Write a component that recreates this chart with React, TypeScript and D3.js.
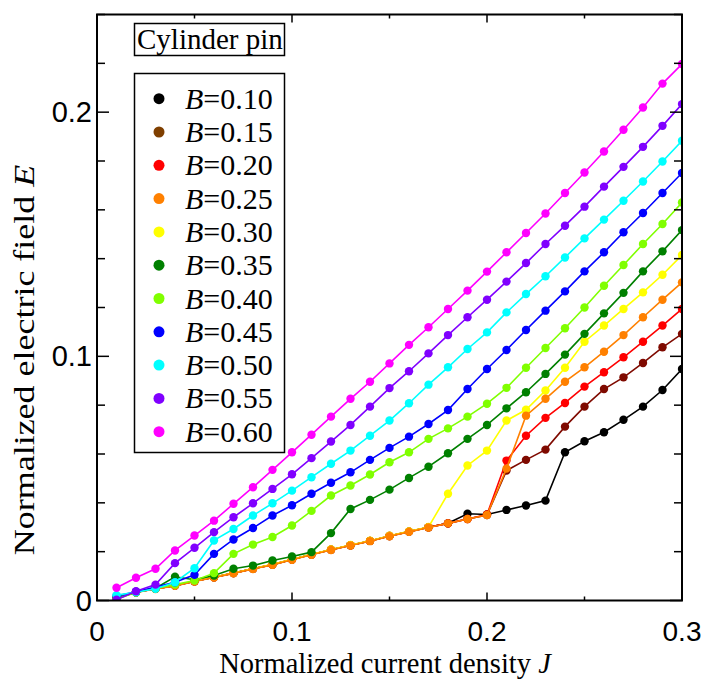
import React from "react";
import * as d3 from "d3";

const J = [0.01,0.02,0.03,0.04,0.05,0.06,0.07,0.08,0.09,0.10,0.11,0.12,0.13,0.14,0.15,0.16,0.17,0.18,0.19,0.20,0.21,0.22,0.23,0.24,0.25,0.26,0.27,0.28,0.29,0.30];

const labels = ["0.10","0.15","0.20","0.25","0.30","0.35","0.40","0.45","0.50","0.55","0.60"];
const colors = ["#000000","#7f0a00","#ff0000","#ff8000","#ffff00","#008000","#80ff00","#0000ff","#00ffff","#8000ff","#ff00ff"];
const legendColors = ["#000000","#7f3f00","#ff0000","#ff8000","#ffff00","#008000","#80ff00","#0000ff","#00ffff","#8000ff","#ff00ff"];
const drawOrder = [0, 1, 2, 4, 3, 5, 6, 7, 8, 9, 10];

const E010 = [0.0010,0.0034,0.0048,0.0061,0.0079,0.0095,0.0112,0.0130,0.0147,0.0168,0.0188,0.0208,0.0226,0.0244,0.0264,0.0282,0.0300,0.0316,0.0355,0.0352,0.0371,0.0389,0.0409,0.0607,0.0652,0.0689,0.0740,0.0794,0.0862,0.0948];
const E015 = [0.0010,0.0034,0.0048,0.0061,0.0079,0.0095,0.0112,0.0130,0.0147,0.0168,0.0188,0.0208,0.0226,0.0244,0.0264,0.0282,0.0300,0.0316,0.0334,0.0350,0.0532,0.0576,0.0618,0.0712,0.0794,0.0866,0.0914,0.0973,0.1037,0.1092];
const E020 = [0.0010,0.0034,0.0048,0.0061,0.0079,0.0095,0.0112,0.0130,0.0147,0.0168,0.0188,0.0208,0.0226,0.0244,0.0264,0.0282,0.0300,0.0316,0.0334,0.0352,0.0573,0.0675,0.0748,0.0809,0.0876,0.0935,0.0996,0.1060,0.1126,0.1194];
const E025 = [0.0010,0.0033,0.0047,0.0060,0.0078,0.0094,0.0111,0.0129,0.0146,0.0167,0.0187,0.0207,0.0225,0.0243,0.0263,0.0281,0.0299,0.0316,0.0334,0.0350,0.0540,0.0757,0.0826,0.0896,0.0955,0.1019,0.1087,0.1160,0.1232,0.1303];
const E030 = [0.0010,0.0035,0.0049,0.0062,0.0080,0.0096,0.0113,0.0131,0.0148,0.0169,0.0189,0.0209,0.0227,0.0245,0.0265,0.0283,0.0301,0.0437,0.0553,0.0614,0.0737,0.0781,0.0860,0.0953,0.1060,0.1126,0.1194,0.1262,0.1334,0.1415];
const E035 = [0.0008,0.0034,0.0050,0.0097,0.0085,0.0102,0.0130,0.0143,0.0164,0.0180,0.0198,0.0276,0.0375,0.0412,0.0454,0.0502,0.0548,0.0603,0.0662,0.0719,0.0787,0.0853,0.0928,0.1007,0.1092,0.1176,0.1260,0.1348,0.1430,0.1517];
const E040 = [0.0005,0.0034,0.0050,0.0065,0.0082,0.0112,0.0191,0.0229,0.0260,0.0307,0.0367,0.0430,0.0471,0.0516,0.0566,0.0607,0.0662,0.0705,0.0753,0.0806,0.0871,0.0953,0.1034,0.1115,0.1200,0.1289,0.1374,0.1460,0.1542,0.1630];
const E045 = [0.0018,0.0036,0.0055,0.0075,0.0105,0.0191,0.0250,0.0297,0.0348,0.0390,0.0437,0.0482,0.0525,0.0576,0.0625,0.0671,0.0723,0.0780,0.0866,0.0948,0.1026,0.1108,0.1187,0.1266,0.1348,0.1426,0.1508,0.1587,0.1669,0.1751];
const E050 = [0.0022,0.0034,0.0048,0.0075,0.0132,0.0246,0.0293,0.0348,0.0398,0.0450,0.0505,0.0560,0.0614,0.0675,0.0737,0.0808,0.0884,0.0955,0.1030,0.1098,0.1180,0.1255,0.1328,0.1405,0.1483,0.1560,0.1637,0.1716,0.1798,0.1883];
const E055 = [0.0003,0.0038,0.0065,0.0153,0.0216,0.0280,0.0341,0.0398,0.0457,0.0517,0.0583,0.0651,0.0719,0.0794,0.0870,0.0939,0.1012,0.1087,0.1160,0.1232,0.1306,0.1382,0.1460,0.1535,0.1613,0.1695,0.1776,0.1858,0.1944,0.2033];
const E060 = [0.0052,0.0093,0.0130,0.0205,0.0266,0.0327,0.0396,0.0464,0.0535,0.0607,0.0679,0.0753,0.0826,0.0896,0.0971,0.1047,0.1119,0.1194,0.1269,0.1347,0.1426,0.1505,0.1585,0.1669,0.1753,0.1839,0.1928,0.2019,0.2117,0.2197];

const seriesValues = [E010,E015,E020,E025,E030,E035,E040,E045,E050,E055,E060];

const xMajor = [0, 0.1, 0.2, 0.3];
const xMinor = [0.05, 0.15, 0.25];
const xTickLabels = ["0", "0.1", "0.2", "0.3"];
const yMajor = [0, 0.1, 0.2];
const yMinor = [0.02,0.04,0.06,0.08,0.12,0.14,0.16,0.18,0.22,0.24];
const yTickLabels = ["0", "0.1", "0.2"];

const W = 703, H = 682;
const L = 97, R = 682, T = 14.5, B = 600.5;

export default function App() {
  const x = d3.scaleLinear().domain([0, 0.3]).range([L, R]);
  const y = d3.scaleLinear().domain([0, 0.24]).range([B, T]);
  const line = d3.line<number>().x((_, i) => x(J[i])).y((d) => y(d));
  const serif = "'Liberation Serif', 'Times New Roman', serif";
  const sans = "'Liberation Sans', Arial, sans-serif";

  return (
    <svg width={W} height={H} style={{ position: "absolute", left: 0, top: 0, background: "#fff" }}>
      <rect x={0} y={0} width={W} height={H} fill="#fff" />
      <defs>
        <clipPath id="plot">
          <rect x={L} y={T} width={R - L} height={B - T} />
        </clipPath>
      </defs>
      <g clipPath="url(#plot)">
        {drawOrder.map((si) => (
          <g key={si}>
            <path d={line(seriesValues[si]) || ""} fill="none" stroke={colors[si]} strokeWidth={1.6} />
            {seriesValues[si].map((v, i) => (
              <circle key={i} cx={x(J[i])} cy={y(v)} r={4.2} fill={colors[si]} />
            ))}
          </g>
        ))}
      </g>
      <rect x={L} y={T} width={R - L} height={B - T} fill="none" stroke="#000" strokeWidth={2} />
      {xMajor.map((t, i) => (
        <g key={"xm" + i}>
          <line x1={x(t)} x2={x(t)} y1={B} y2={B - 8} stroke="#000" strokeWidth={1.5} />
          <line x1={x(t)} x2={x(t)} y1={T} y2={T + 8} stroke="#000" strokeWidth={1.5} />
          <text x={x(t)} y={641} textAnchor="middle" fontFamily={sans} fontSize={28}>{xTickLabels[i]}</text>
        </g>
      ))}
      {xMinor.map((t, i) => (
        <g key={"xn" + i}>
          <line x1={x(t)} x2={x(t)} y1={B} y2={B - 4} stroke="#000" strokeWidth={1.5} />
          <line x1={x(t)} x2={x(t)} y1={T} y2={T + 4} stroke="#000" strokeWidth={1.5} />
        </g>
      ))}
      {yMajor.map((t, i) => (
        <g key={"ym" + i}>
          <line x1={L} x2={L + 12} y1={y(t)} y2={y(t)} stroke="#000" strokeWidth={1.5} />
          <line x1={R} x2={R - 12} y1={y(t)} y2={y(t)} stroke="#000" strokeWidth={1.5} />
          <text x={92} y={y(t) + 10} textAnchor="end" fontFamily={sans} fontSize={29}>{yTickLabels[i]}</text>
        </g>
      ))}
      {yMinor.map((t, i) => (
        <g key={"yn" + i}>
          <line x1={L} x2={L + 8} y1={y(t)} y2={y(t)} stroke="#000" strokeWidth={1.5} />
          <line x1={R} x2={R - 8} y1={y(t)} y2={y(t)} stroke="#000" strokeWidth={1.5} />
        </g>
      ))}
      <text x={385} y={673} textAnchor="middle" fontFamily={serif} fontSize={28.5}>
        Normalized current density <tspan fontStyle="italic">J</tspan>
      </text>
      <text transform={`translate(34, 360) rotate(-90) scale(1.22, 1)`} textAnchor="middle" fontFamily={serif} fontSize={29.5}>
        Normalized electric field <tspan fontStyle="italic">E</tspan>
      </text>
      <rect x={134.5} y={23.5} width={150} height={32} fill="#fff" stroke="#000" strokeWidth={1.5} />
      <text x={137} y={49} fontFamily={serif} fontSize={29}>Cylinder pin</text>
      <rect x={134.5} y={73.5} width={150} height={379} fill="#fff" stroke="#000" strokeWidth={1.5} />
      {labels.map((lab, i) => {
        const cy = 98.7 + i * 33.3;
        return (
          <g key={"lg" + i}>
            <circle cx={159} cy={cy} r={5.5} fill={legendColors[i]} />
            <text x={185} y={cy + 10} fontFamily={serif} fontSize={30}>
              <tspan fontStyle="italic">B</tspan>=0{lab.slice(1)}
            </text>
          </g>
        );
      })}
    </svg>
  );
}
